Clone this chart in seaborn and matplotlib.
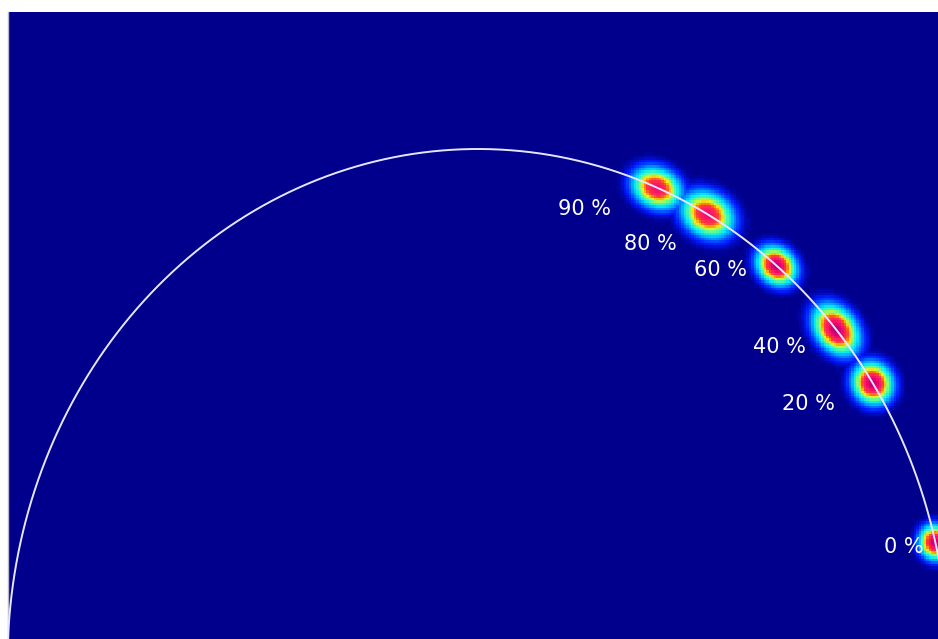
import numpy as np
import pandas as pd
import matplotlib
matplotlib.use("Agg")
import matplotlib.pyplot as plt
from matplotlib.colors import LinearSegmentedColormap
import seaborn as sns

# ---- data ----
labels = ["0 %", "20 %", "40 %", "60 %", "80 %", "90 %"]
angles_deg = [13.4, 32.9, 40.4, 50.6, 60.8, 67.7]      # blob position on the unit semicircle
peak = [1.0, 1.0, 1.0, 1.0, 0.85, 0.85]                 # relative peak density

# ---- styling (pixel sizes / offsets) ----
sigma_t_px = [9.0, 11.0, 14.0, 11.0, 14.0, 13.0]
sigma_n_px = [8.0, 10.0, 10.0, 9.0, 11.0, 10.0]
label_off_px = [(-32, -4), (-64, -21), (-57, -17), (-56, -4), (-57, -30), (-72, -22)]

sns.set_theme(style="white")
plt.rcParams["font.family"] = ["DejaVu Sans"]

W, H = 938, 639
fig = plt.figure(figsize=(W / 100, H / 100), dpi=100)
ax = fig.add_axes([8 / W, 0, (W - 8) / W, (H - 12) / H])

xlim = (-0.999, 0.978)
ylim = (0.045, 1.267)
sx, sy = 470.5, 513.0   # pixels per data unit

cmap = LinearSegmentedColormap.from_list(
    "blob",
    [(0.00, "#00008c"), (0.03, "#0018ff"), (0.10, "#0090ff"), (0.18, "#00e6ff"),
     (0.30, "#60ff90"), (0.42, "#f0f020"), (0.52, "#ff9a00"), (0.62, "#ff3c3c"),
     (0.76, "#ff1c64"), (0.90, "#e80070"), (1.00, "#b8007a")])

step = 2.5
nx = int((xlim[1] - xlim[0]) * sx / step)
ny = int((ylim[1] - ylim[0]) * sy / step)
xs = np.linspace(xlim[0], xlim[1], nx)
ys = np.linspace(ylim[0], ylim[1], ny)
X, Y = np.meshgrid(xs, ys)
Z = np.zeros_like(X)
for ang, a, st, sn in zip(angles_deg, peak, sigma_t_px, sigma_n_px):
    t = np.radians(ang)
    cx, cy = np.cos(t), np.sin(t)
    dx = (X - cx) * sx
    dy = (Y - cy) * sy
    tx, ty = -np.sin(t) * sx, np.cos(t) * sy
    nrm = np.hypot(tx, ty)
    tx, ty = tx / nrm, ty / nrm
    u = dx * tx + dy * ty
    v = -dx * ty + dy * tx
    Z = np.maximum(Z, a * np.exp(-0.5 * ((u / st) ** 2 + (v / sn) ** 2)))

ax.imshow(Z, origin="lower", extent=(xlim[0], xlim[1], ylim[0], ylim[1]),
          cmap=cmap, vmin=0, vmax=1, interpolation="nearest", aspect="auto", zorder=1)

theta = np.linspace(0, np.pi, 600)
arc = pd.DataFrame({"x": np.cos(theta), "y": np.sin(theta)})
sns.lineplot(data=arc, x="x", y="y", sort=False, estimator=None, ax=ax,
             color="#e6e6ff", linewidth=1.4, zorder=3)

for lab, ang, off in zip(labels, angles_deg, label_off_px):
    t = np.radians(ang)
    ax.annotate(lab, (np.cos(t), np.sin(t)), xytext=off, textcoords="offset pixels",
                ha="center", va="center", color="white", fontsize=15, zorder=4)

ax.set_xlim(*xlim)
ax.set_ylim(*ylim)
ax.set_xlabel("")
ax.set_ylabel("")
ax.set_xticks([])
ax.set_yticks([])
for s in ["top", "right", "bottom"]:
    ax.spines[s].set_visible(False)
ax.spines["left"].set_color("#b8b8c8")
ax.spines["left"].set_linewidth(1.0)

fig.savefig("out.png", dpi=100, facecolor="white")
